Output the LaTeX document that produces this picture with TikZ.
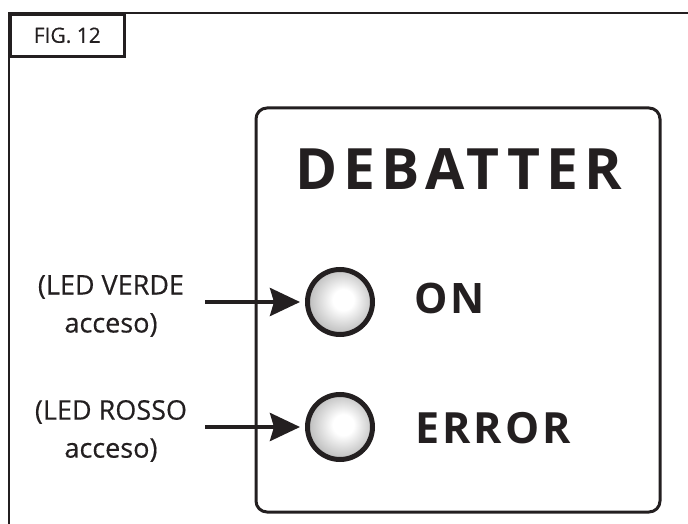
\documentclass[tikz,border=0pt]{standalone}
\usepackage{fontspec}
\setmainfont[FakeBold=0.4]{Open Sans}
\newfontfamily\boldwide[LetterSpace=11]{Open Sans Bold}
\newfontfamily\boldmid[LetterSpace=7]{Open Sans Bold}
\usetikzlibrary{arrows.meta}
\definecolor{ink}{HTML}{231F20}
\pgfdeclareradialshading{ledshade}{\pgfpoint{3bp}{2bp}}{%
  color(0bp)=(white); color(8bp)=(white); color(25bp)=(black!25);
  color(42bp)=(black!50); color(50bp)=(black!60)}
\begin{document}
\begin{tikzpicture}[x=1pt,y=-1pt,
  frameline/.style={draw=ink,line width=2.6pt},
  led/.style={circle,draw=ink,line width=5pt,minimum size=65pt,inner sep=0pt,shading=ledshade},
  lbl/.style={text=ink,font=\fontsize{27}{38}\selectfont,align=center,inner sep=0pt},
  bigword/.style={text=ink,inner sep=0pt,anchor=base west},
  pointer/.style={draw=ink,line width=4pt,-{Stealth[length=30pt,width=28pt,inset=4pt]},shorten >=5pt}]
\useasboundingbox (0,0) rectangle (688,524);
% outer frame
\draw[frameline] (9,524) -- (9,13) -- (688,13);
\node[frameline,minimum width=114pt,minimum height=42pt,anchor=north west,inner sep=0pt,text=ink,font=\fontsize{21}{24}\selectfont] (fig) at (9,13) {FIG. 12};
% panel
\node[draw=ink,line width=3pt,rounded corners=11pt,minimum width=404pt,minimum height=404pt,inner sep=0pt] (panel) at (458,310) {};
\node[bigword,font=\boldwide\fontsize{57}{60}\selectfont] (title) at (295,189) {DEBATTER};
\node[led] (led1) at (340,302) {};
\node[led] (led2) at (340,427) {};
\node[bigword,font=\boldmid\fontsize{42}{45}\selectfont] (on) at (414,313) {ON};
\node[bigword,font=\boldmid\fontsize{43}{46}\selectfont] (err) at (415,443) {ERROR};
% labels
\node[lbl] (lab1) at (111,306) {(LED VERDE\\acceso)};
\node[lbl] (lab2) at (111,431) {(LED ROSSO\\acceso)};
\coordinate (s1) at (205,302);
\coordinate (s2) at (205,427);
\draw[pointer] (s1) -- (led1.west);
\draw[pointer] (s2) -- (led2.west);
\end{tikzpicture}
\end{document}
